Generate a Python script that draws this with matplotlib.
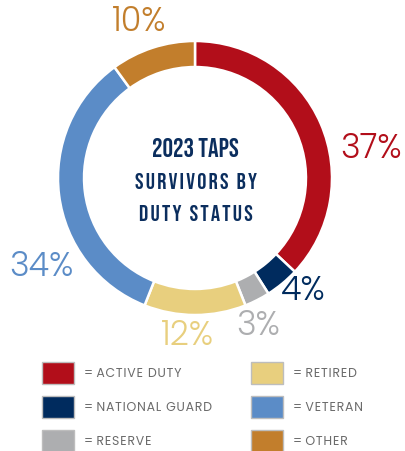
import numpy as np
import matplotlib
matplotlib.use("Agg")
import matplotlib.pyplot as plt

# data
categories = ["ACTIVE DUTY", "NATIONAL GUARD", "RESERVE", "RETIRED", "VETERAN", "OTHER"]
shares = [37, 4, 3, 12, 34, 10]
pct_labels = ["37%", "4%", "3%", "12%", "34%", "10%"]
title_lines = ["2023 TAPS", "SURVIVORS BY", "DUTY STATUS"]

colors = ["#B20E1A", "#002B5E", "#ADAEB0", "#E8CF7E", "#5B8CC7", "#C27E2C"]
# label layout: (clockwise angle offset from wedge middle in deg, radial distance)
label_layout = [(14.4, 1.30), (-3.9, 1.15), (4, 1.18), (2.9, 1.16), (-23.1, 1.30), (-1.9, 1.20)]


def spaced(s, gap="\u200a"):
    return gap.join(s)


W, H = 405, 451
fig = plt.figure(figsize=(W / 100, H / 100), dpi=100)

# donut axes: center (195,178) px, radius 137 px
cx, cy, r = 195, 178, 137
ax = fig.add_axes([(cx - r) / W, (H - cy - r) / H, 2 * r / W, 2 * r / H])

wedges, _ = ax.pie(shares, colors=colors, startangle=90, counterclock=False,
                   radius=1.0, wedgeprops=dict(width=0.19, edgecolor="white", linewidth=1.8))
ax.set_xlim(-1, 1)
ax.set_ylim(-1, 1)
ax.axis("off")

for w, lab, col, (off, dist) in zip(wedges, pct_labels, colors, label_layout):
    mid = np.deg2rad((w.theta1 + w.theta2) / 2 - off)
    ax.text(dist * np.cos(mid), dist * np.sin(mid), lab, color=col, fontsize=24,
            family=["Poppins", "Lato", "DejaVu Sans"], fontweight=300,
            ha="center", va="center", clip_on=False)

title_y = [0.226, -0.022, -0.255]
title_size = [19, 16.5, 16.5]
title_gap = ["", "\u200a", "\u200a"]
for line, y, fs, gap in zip(title_lines, title_y, title_size, title_gap):
    ax.text(0.005, y, spaced(line, gap), color="#0B2E5E", fontsize=fs,
            family=["Bebas Neue", "DejaVu Sans"], ha="center", va="center")

# legend
leg = fig.add_axes([0, 0, 1, 1])
leg.set_xlim(0, W)
leg.set_ylim(H, 0)
leg.axis("off")
col_x = [42, 251]
row_y = [362, 396, 430]
for k, (cat, col) in enumerate(zip(categories, colors)):
    c, rr = divmod(k, 3)
    x0, y0 = col_x[c], row_y[rr]
    leg.add_patch(plt.Rectangle((x0, y0), 32, 22, facecolor=col, edgecolor="#BDBDBD", linewidth=1))
    leg.text(x0 + 42, y0 + 12, "= " + spaced(cat), color="#6B6B6B", fontsize=9,
             family=["Poppins", "Lato", "DejaVu Sans"], ha="left", va="center")

fig.savefig("out.png", dpi=100)
